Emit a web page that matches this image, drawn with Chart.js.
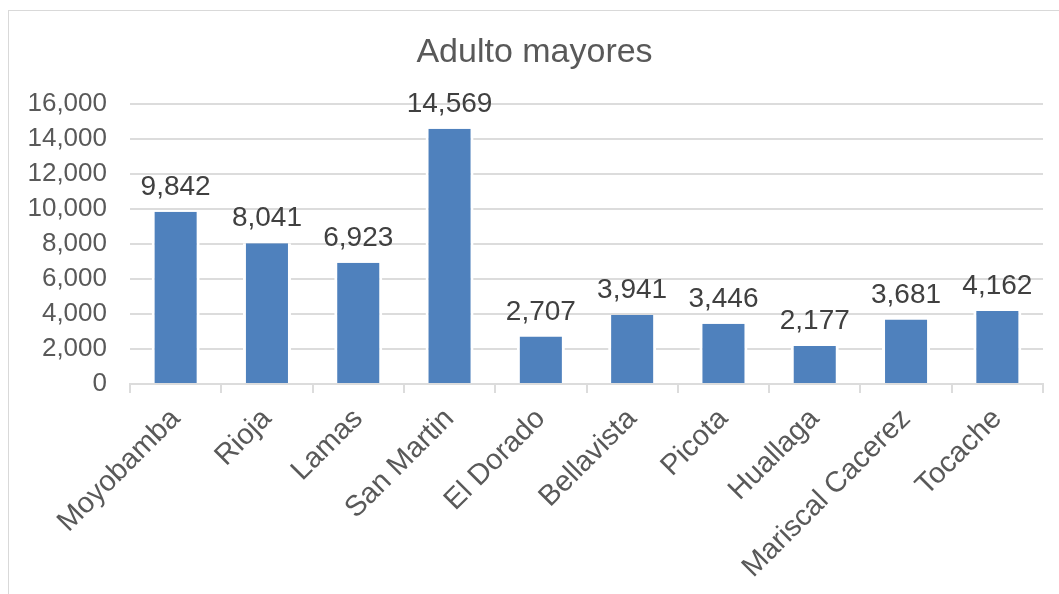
<!DOCTYPE html>
<html>
<head>
<meta charset="utf-8">
<title>Adulto mayores</title>
<script src="https://cdn.jsdelivr.net/npm/chart.js@4.4.1/dist/chart.umd.min.js"></script>
<style>
  html, body { margin: 0; padding: 0; background: #fff; overflow: hidden; }
  #frame {
    position: absolute; left: 8px; top: 10px;
    width: 1100px; height: 700px;
    border: 1px solid #d9d9d9;
  }
  #adultosChart { position: absolute; left: 0; top: 0; }
</style>
</head>
<body>
<div id="frame"></div>
<canvas id="adultosChart" width="1059" height="594"></canvas>
<script>
// --- DATA ---
const provincias = ['Moyobamba', 'Rioja', 'Lamas', 'San Martin', 'El Dorado',
                    'Bellavista', 'Picota', 'Huallaga', 'Mariscal Cacerez', 'Tocache'];
const adultosMayores = [9842, 8041, 6923, 14569, 2707, 3941, 3446, 2177, 3681, 4162];
const yMin = 0;
const yMax = 16000;
const yStep = 2000;

const FONT = "'Liberation Sans', Arial, sans-serif";
const GRID = '#dcdcdc';
const BAR_BLUE = '#4f81bd';

const fmt = v => Number(v).toLocaleString('en-US');

// value labels over each bar
const barValues = {
    id: 'barValues',
    afterDatasetsDraw(chart) {
        const ctx = chart.ctx;
        const meta = chart.getDatasetMeta(0);
        const data = chart.data.datasets[0].data;
        ctx.save();
        ctx.font = `28px ${FONT}`;
        ctx.fillStyle = '#404040';
        ctx.textAlign = 'center';
        ctx.textBaseline = 'alphabetic';
        meta.data.forEach((bar, i) => {
            ctx.fillText(fmt(data[i]), bar.x, bar.y - 17);
        });
        ctx.restore();
    }
};

function initChart() {
    new Chart(document.getElementById('adultosChart'), {
        type: 'bar',
        data: {
            labels: provincias,
            datasets: [{
                label: 'Adulto mayores',
                data: adultosMayores,
                backgroundColor: BAR_BLUE,
                borderColor: '#ffffff',
                borderWidth: { left: 3, right: 3, top: 0, bottom: 0 },
                borderSkipped: false,
                barPercentage: 0.526,
                categoryPercentage: 1.0
            }]
        },
        options: {
            responsive: false,
            animation: false,
            layout: { padding: { left: 26, right: 16, top: 0, bottom: 0 } },
            plugins: {
                legend: { display: false },
                tooltip: { enabled: false },
                title: {
                    display: true,
                    text: 'Adulto mayores',
                    color: '#595959',
                    font: { family: FONT, size: 34, weight: 'normal' },
                    padding: { top: 32, bottom: 31 }
                }
            },
            scales: {
                x: {
                    grid: { display: true, drawOnChartArea: false, drawTicks: true, tickLength: 9, color: GRID, lineWidth: 2 },
                    border: { display: true, color: GRID, width: 2 },
                    ticks: {
                        color: '#595959',
                        font: { family: FONT, size: 29 },
                        minRotation: 45, maxRotation: 45,
                        padding: 9,
                        autoSkip: false
                    },
                    // the rotated first label sits under the y ticks, no extra room needed
                    afterFit: scale => { scale.paddingLeft = 0; }
                },
                y: {
                    min: yMin, max: yMax,
                    grid: { color: GRID, lineWidth: 2, drawTicks: false },
                    border: { display: false },
                    ticks: {
                        stepSize: yStep,
                        color: '#595959',
                        font: { family: FONT, size: 26 },
                        padding: 23,
                        callback: v => fmt(v)
                    },
                    // fit() counts the tick padding twice; keep the axis tight
                    afterFit: scale => { scale.width = 104; }
                }
            }
        },
        plugins: [barValues]
    });
}

window.onload = initChart;
</script>
</body>
</html>
